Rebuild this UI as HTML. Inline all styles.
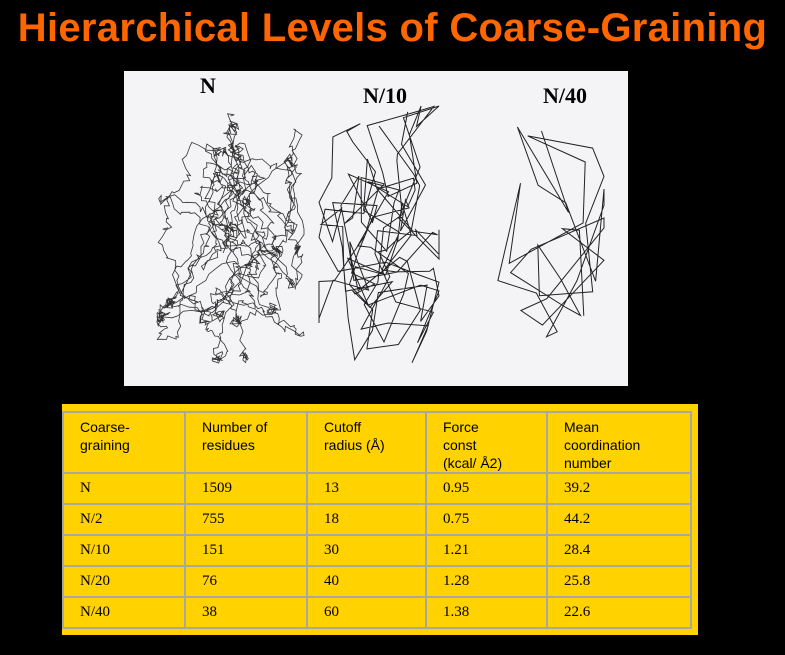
<!DOCTYPE html>
<html><head><meta charset="utf-8"><style>
body{margin:0;background:#000;width:785px;height:655px;overflow:hidden;position:relative;font-family:"Liberation Sans",sans-serif}
h1{position:absolute;left:0;width:785px;top:6px;margin:0;text-align:center;color:#ff6600;font-size:40px;font-weight:bold;letter-spacing:0.3px}
#img{position:absolute;left:124px;top:71px;width:504px;height:315px;background:#f4f4f6}
.lab{position:absolute;font-family:"Liberation Serif",serif;font-weight:bold;font-size:22px;color:#000}
#tb{position:absolute;left:62px;top:404px;width:636px;height:231px;background:#ffd200}
table{position:absolute;left:0;top:7px;border-collapse:collapse}
td{border:2px solid #a8a8a0;padding:0 0 0 16px;vertical-align:top;font-family:"Liberation Serif",serif;font-size:15px;color:#000;height:31px;line-height:29px;box-sizing:border-box}
tr.h td{font-family:"Liberation Sans",sans-serif;font-size:14px;line-height:18px;height:57px;padding-top:5px}
</style></head><body>
<h1>Hierarchical Levels of Coarse-Graining</h1>
<div id="img">
<svg id="sv" width="504" height="315"></svg>
<div class="lab" style="left:76px;top:2px">N</div>
<div class="lab" style="left:239px;top:12px">N/10</div>
<div class="lab" style="left:419px;top:12px">N/40</div>
</div>
<div id="tb"><table>
<tr class="h"><td style="width:122px">Coarse-<br>graining</td><td style="width:122px">Number of<br>residues</td><td style="width:119px">Cutoff<br>radius (Å)</td><td style="width:121px">Force<br>const<br>(kcal/ Å2)</td><td style="width:144px">Mean<br>coordination<br>number</td></tr>
<tr><td>N</td><td>1509</td><td>13</td><td>0.95</td><td>39.2</td></tr>
<tr><td>N/2</td><td>755</td><td>18</td><td>0.75</td><td>44.2</td></tr>
<tr><td>N/10</td><td>151</td><td>30</td><td>1.21</td><td>28.4</td></tr>
<tr><td>N/20</td><td>76</td><td>40</td><td>1.28</td><td>25.8</td></tr>
<tr><td>N/40</td><td>38</td><td>60</td><td>1.38</td><td>22.6</td></tr>
</table></div>
<script>
var s=12345;function r(){s=(s*16807)%2147483647;return s/2147483647;}
var sv=document.getElementById('sv'),h='';
function chain(n,x0,x1,y0,y1,step,k,w,c){var x=(x0+x1)/2,y=y0+20,d='M'+x+' '+y,tx=x,ty=y;
for(var i=0;i<n;i++){if(i%k==0){tx=x0+r()*(x1-x0);ty=y0+r()*(y1-y0);}
var dx=tx-x,dy=ty-y,L=Math.sqrt(dx*dx+dy*dy)||1;
x+=dx/L*step*0.6+(r()-0.5)*step*1.6;y+=dy/L*step*0.6+(r()-0.5)*step*1.6;
x=Math.max(x0,Math.min(x1,x));y=Math.max(y0,Math.min(y1,y));
d+='L'+x.toFixed(1)+' '+y.toFixed(1);}
h+='<path d="'+d+'" fill="none" stroke="'+c+'" stroke-width="'+w+'"/>';}
chain(1500,33,180,25,292,7,25,0.8,'#333');
chain(150,195,315,35,292,40,3,1,'#222');
chain(38,355,480,40,285,70,1,1,'#222');
sv.innerHTML=h;
</script>
</body></html>
